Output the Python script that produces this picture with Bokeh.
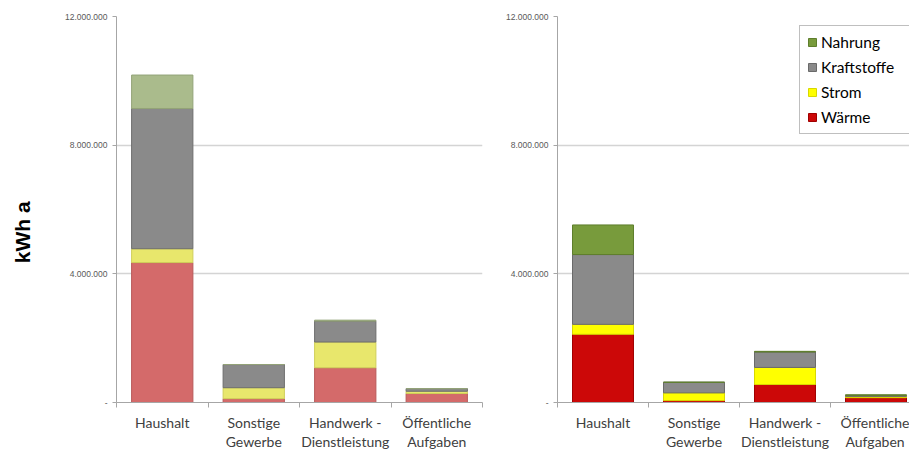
import math
from bokeh.plotting import figure
from bokeh.models import (Range1d, FixedTicker, LinearAxis, Legend, LegendItem,
                          ColumnDataSource)
from bokeh.core.properties import value
from bokeh.layouts import row
from bokeh.embed import file_html
from bokeh.resources import INLINE

# ---------------- data ----------------
categories = ["Haushalt", "Sonstige\nGewerbe", "Handwerk -\nDienstleistung", "Öffentliche\nAufgaben"]
series = ["Wärme", "Strom", "Kraftstoffe", "Nahrung"]
y_axis_title = "kWh a"

# left chart (kWh a)
left_waerme = [4.35e6, 0.12e6, 1.08e6, 0.28e6]
left_strom = [0.43e6, 0.34e6, 0.80e6, 0.07e6]
left_kraftstoffe = [4.36e6, 0.72e6, 0.65e6, 0.08e6]
left_nahrung = [1.04e6, 0.0, 0.03e6, 0.0]

# right chart (kWh a)
right_waerme = [2.12e6, 0.06e6, 0.56e6, 0.15e6]
right_strom = [0.31e6, 0.24e6, 0.53e6, 0.04e6]
right_kraftstoffe = [2.17e6, 0.33e6, 0.48e6, 0.03e6]
right_nahrung = [0.92e6, 0.0, 0.02e6, 0.02e6]

y_ticks = [0, 4000000, 8000000, 12000000]
y_tick_labels = ["-", "4.000.000", "8.000.000", "12.000.000"]

left_colors = ["#D46A6A", "#E8E76C", "#8A8A8A", "#AABB8C"]
left_lines = ["#B85A5A", "#CFCF5A", "#6E6E6E", "#93A378"]
right_colors = ["#CC0808", "#FFFF00", "#8A8A8A", "#789B3C"]
right_lines = ["#A00000", "#D8D800", "#6A6A6A", "#5E7E2C"]

FONT = "Lato"
H = 453
TOP = 16


def make_fig(width, border_left, border_right, x_end, values, colors, lines):
    p = figure(width=width, height=H, x_range=Range1d(0, x_end),
               y_range=Range1d(0, 12e6), output_backend="svg",
               toolbar_location=None, x_axis_location=None, y_axis_location=None,
               min_border_left=border_left, min_border_right=border_right,
               min_border_top=TOP, min_border_bottom=46)
    p.outline_line_color = None
    p.background_fill_color = "white"
    p.border_fill_color = "white"

    xs = [i + 0.5 for i in range(len(categories))]
    keys = ["waerme", "strom", "kraftstoffe", "nahrung"]
    data = dict(x=xs)
    for k, v in zip(keys, values):
        data[k] = v
    src = ColumnDataSource(data)
    rs = p.vbar_stack(keys, x="x", width=0.67, source=src,
                      fill_color=colors, line_color=lines, line_width=1)

    # y axis
    yax = LinearAxis(ticker=FixedTicker(ticks=y_ticks))
    yax.major_label_overrides = {t: l for t, l in zip(y_ticks, y_tick_labels)}
    yax.major_label_text_font = "Liberation Sans"
    yax.major_label_text_font_size = "8.5px"
    yax.major_label_text_color = "#595959"
    yax.major_label_standoff = 5
    yax.major_tick_out = 4
    yax.major_tick_in = 0
    yax.major_tick_line_color = "#a6a6a6"
    yax.minor_tick_line_color = None
    yax.axis_line_color = "#a6a6a6"
    p.add_layout(yax, "left")

    # category boundary ticks
    tax = LinearAxis(ticker=FixedTicker(ticks=list(range(len(categories) + 1))))
    tax.major_label_overrides = {i: "" for i in range(len(categories) + 1)}
    tax.major_label_text_font_size = "0px"
    tax.major_label_standoff = 0
    tax.major_tick_out = 5
    tax.major_tick_in = 0
    tax.major_tick_line_color = "#a6a6a6"
    tax.minor_tick_line_color = None
    tax.axis_line_color = "#a6a6a6"
    tax.axis_line_width = 1.2
    p.add_layout(tax, "below")

    # category labels
    lax = LinearAxis(ticker=FixedTicker(ticks=xs))
    lax.major_label_overrides = {x: c for x, c in zip(xs, categories)}
    lax.major_label_text_font = FONT
    lax.major_label_text_font_size = "14px"
    lax.major_label_text_color = "#404040"
    lax.major_label_text_line_height = 1.17
    lax.major_label_standoff = 6
    lax.major_tick_line_color = None
    lax.major_tick_out = 0
    lax.minor_tick_line_color = None
    lax.axis_line_color = None
    p.add_layout(lax, "below")

    p.xgrid.visible = False
    p.ygrid.ticker = FixedTicker(ticks=y_ticks)
    p.ygrid.grid_line_color = "#d4d4d4"
    p.ygrid.grid_line_width = 1.5
    return p, rs


# strip holding the rotated y title
pl = figure(width=40, height=H, x_range=Range1d(0, 1), y_range=Range1d(0, 12e6),
            output_backend="svg", toolbar_location=None,
            x_axis_location=None, y_axis_location=None,
            min_border_left=0, min_border_right=0,
            min_border_top=TOP, min_border_bottom=46)
pl.outline_line_color = None
pl.xgrid.visible = False
pl.ygrid.visible = False
pl.text(x=[0.54], y=[5.29e6], text=[y_axis_title], angle=math.pi / 2,
        text_align="center", text_baseline="middle",
        text_font=value("Liberation Sans"), text_font_style="bold",
        text_font_size="21px", text_color="black")

p1, rs1 = make_fig(458, 76, 16, 4,
                   [left_waerme, left_strom, left_kraftstoffe, left_nahrung],
                   left_colors, left_lines)

p2, rs2 = make_fig(411, 59, 0, 352 / 91,
                   [right_waerme, right_strom, right_kraftstoffe, right_nahrung],
                   right_colors, right_lines)

items = [LegendItem(label=s, renderers=[r]) for s, r in zip(series, rs2)][::-1]
legend = Legend(items=items, location=(242, 268), padding=7, spacing=7,
                label_height=17, glyph_height=10, glyph_width=10,
                label_standoff=4, margin=0, label_width=83,
                label_text_font=FONT, label_text_font_size="15.5px",
                label_text_color="black",
                border_line_color="#7f7f7f", border_line_width=1.5,
                background_fill_color="white", background_fill_alpha=1)
p2.add_layout(legend, "center")

layout = row(pl, p1, p2)
open("out.html", "w").write(file_html(layout, INLINE))
